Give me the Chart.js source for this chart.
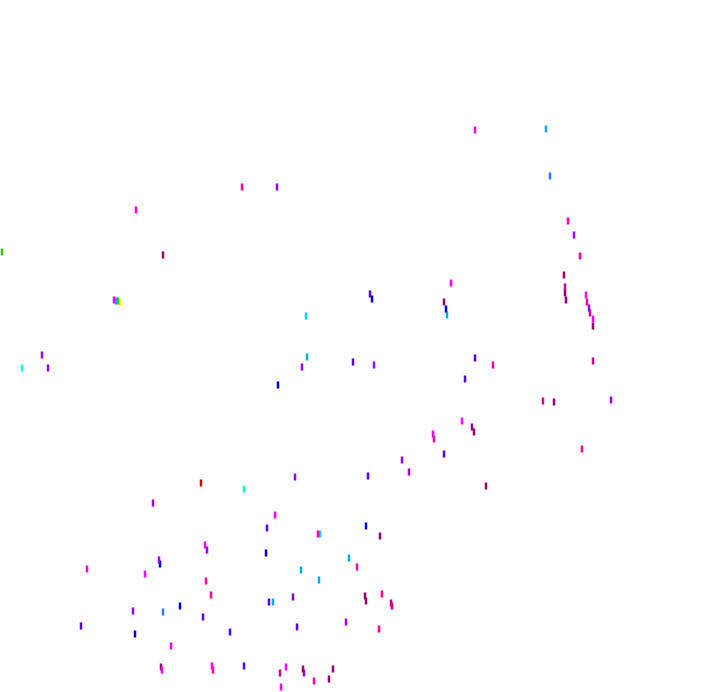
<!DOCTYPE html>
<html>
<head>
<meta charset="utf-8">
<script src="https://cdn.jsdelivr.net/npm/chart.js@4/dist/chart.umd.min.js"></script>
<style>
html,body{margin:0;padding:0;background:#ffffff;}
#wrap{position:relative;width:720px;height:692px;}
</style>
</head>
<body>
<div id="wrap"><canvas id="c"></canvas></div>
<script>
// Series values (x, y) per colour group
const magentaX = [47.5,13.6,45.1,58.6,59.3,46.2,43.3,27.5,20.5,8.7,14.5,17.1,16.2,21.2,28.6,28.1,11.4];
const magentaY = [56.2,48.2,40.9,39.7,37.3,27.1,25.8,17.7,14.7,12.3,11.8,4.6,2.2,2.6,2.5,0.5,39.2];
const deepPinkX = [24.2,56.8,58.0,58.7,49.3,58.2,43.4,31.8,20.6,21.1,21.3,31.4,35.7,38.2,37.9];
const deepPinkY = [50.5,47.1,43.6,39.0,32.7,24.3,25.3,15.8,11.1,9.7,2.2,1.1,12.5,9.8,6.3];
const rosePinkX = [56.5,59.0,59.3,54.3,28.0,39.1,39.2];
const rosePinkY = [40.5,37.9,33.1,29.1,1.9,8.9,8.6];
const plumX = [16.3,56.4,56.5,56.6,59.3,55.4,44.4,47.4,48.6,16.1,30.3,38.0,36.5,36.6,33.3,32.9];
const plumY = [43.7,41.7,39.9,39.2,36.6,29.0,39.0,26.0,20.6,2.5,2.3,15.6,9.6,9.1,2.3,1.3];
const darkPurpleX = [47.2,29.3];
const darkPurpleY = [26.5,9.5];
const purpleX = [27.7,4.8,4.2,30.2,58.9,37.4,61.1,40.2,40.9,29.5,15.3,20.7,15.9,13.3,34.6,30.4,57.4];
const purpleY = [50.5,32.4,33.7,32.5,38.4,32.7,29.2,23.2,22.0,21.5,18.9,14.2,13.2,8.1,7.0,1.9,45.7];
const violetX = [37.0,35.3,47.5,46.5,44.4,36.8,26.7,20.3,8.1,29.7,23.0,24.4,26.9];
const violetY = [39.8,33.0,33.4,31.3,23.8,21.6,16.4,7.5,6.6,6.5,6.0,2.6,9.0];
const navyX = [37.2,44.6,27.8,26.6,16.0,18.0,13.5,36.6];
const navyY = [39.3,38.3,30.7,13.9,12.8,8.6,5.8,16.6];
const blueX = [55.0,16.3];
const blueY = [51.6,8.0];
const skyX = [54.6,44.7,30.7,30.1,31.9,34.9,27.3,11.6];
const skyY = [56.3,37.7,33.5,12.2,11.2,13.4,9.0,39.1];
const cyanX = [30.6,32.0];
const cyanY = [37.6,15.8];
const aquaX = [2.2,24.4];
const aquaY = [32.4,20.3];
const greenX = [0.2,11.8];
const greenY = [44.0,39.1];
const redX = [20.1];
const redY = [20.9];
const yellowX = [12.0];
const yellowY = [39.0];

const groups = [
  {name:'magenta', xs:magentaX, ys:magentaY, color:'#ff00ff'},
  {name:'deep pink', xs:deepPinkX, ys:deepPinkY, color:'#ff0099'},
  {name:'rose', xs:rosePinkX, ys:rosePinkY, color:'#cc0088'},
  {name:'plum', xs:plumX, ys:plumY, color:'#990066'},
  {name:'dark purple', xs:darkPurpleX, ys:darkPurpleY, color:'#8800aa'},
  {name:'purple', xs:purpleX, ys:purpleY, color:'#9900ff'},
  {name:'violet', xs:violetX, ys:violetY, color:'#5500ff'},
  {name:'navy', xs:navyX, ys:navyY, color:'#0000cc'},
  {name:'blue', xs:blueX, ys:blueY, color:'#3377ff'},
  {name:'sky', xs:skyX, ys:skyY, color:'#00aaff'},
  {name:'cyan', xs:cyanX, ys:cyanY, color:'#00ccff'},
  {name:'aqua', xs:aquaX, ys:aquaY, color:'#00ffcc'},
  {name:'green', xs:greenX, ys:greenY, color:'#33cc00'},
  {name:'red', xs:redX, ys:redY, color:'#cc0000'},
  {name:'yellow', xs:yellowX, ys:yellowY, color:'#ffee00'}
];

const datasets = groups.map(g => ({
  label: g.name,
  data: g.xs.map((x, i) => ({x: x, y: g.ys[i]})),
  pointStyle: 'line',
  rotation: 90,
  radius: 3.5,
  hoverRadius: 3.5,
  borderWidth: 2.5,
  borderColor: g.color,
  backgroundColor: g.color,
  clip: false
}));

new Chart(document.getElementById('c'), {
  type: 'scatter',
  data: {datasets: datasets},
  options: {
    responsive: true,
    maintainAspectRatio: false,
    animation: false,
    events: [],
    layout: {padding: 0, autoPadding: false},
    plugins: {legend: {display: false}, tooltip: {enabled: false}},
    scales: {
      x: {type: 'linear', min: 0, max: 72, display: false},
      y: {type: 'linear', min: 0, max: 69.2, display: false}
    }
  }
});
</script>
</body>
</html>
